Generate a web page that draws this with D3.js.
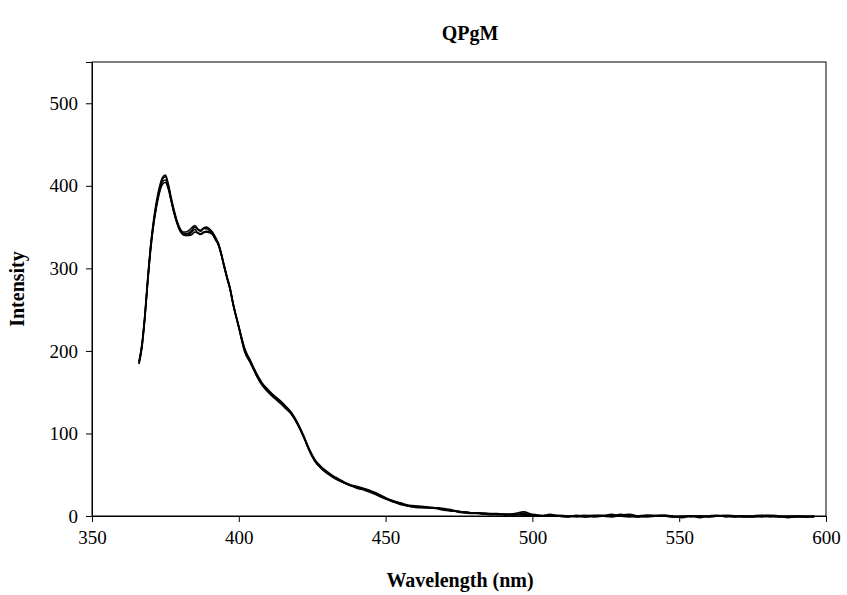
<!DOCTYPE html>
<html><head><meta charset="utf-8">
<script src="https://cdn.jsdelivr.net/npm/d3@7"></script>
<style>body{margin:0;background:#fff}svg{display:block}</style>
</head><body><svg id="c" width="847" height="595"></svg>
<script>
const wavelength = [366,367,368,369,370,371,372,373,374,375,376,377,378,379,380,381,382,383,384,385,386,387,388,389,390,391,392,393,394,395,396,397,
398,400,402,404,406,408,410,412,414,416,418,420,422,424,426,428,430,432,434,436,438,440,
443,446,449,452,455,458,461,464,467,470,473,476,479,482,485,488,491,494,497,500,503,506,509,512,515,518,521,524,527,530,533,536,539,542,545,548,551,554,557,560,563,566,569,572,575,578,581,584,587,590,593,596];

const run1 = [185,205,240,285,325,355,378,396,408,411,400,383,368,356,347,343,342,343,346,350,347,345,348,348,346,343,337,330,318,303,289,276,
258,228,200,186,172,160,152,144,139,132,124,112,97,80,67,59,53,48,44,40,37,35,
32,28,23,18,15,12,11,10,10,8,6,5,4,3,3,2,2,2,3,1,0,1,0,-1,1,-1,0,1,0,2,0,-1,1,0,1,0,-2,0,-1,0,1,-1,0,-1,0,1,0,-1,0,-1,0,-1];

const run2 = [186,207,242,287,327,356,378,394,405,407,398,382,367,355,346,341,340,340,341,344,343,342,344,345,344,342,336,329,317,302,288,275,
257,229,202,187,171,159,151,145,138,131,123,111,96,79,66,58,52,47,43,40,37,34,
31,27,22,18,14,12,10,10,9,7,6,4,3,3,2,2,1,2,1,1,0,2,0,0,-1,0,1,0,-1,1,2,0,-1,0,1,-1,-1,0,-2,0,0,0,-1,0,-1,0,-1,0,-2,-1,-1,0];

const run3 = [184,204,239,284,323,353,375,392,402,404,396,381,366,354,345,341,340,341,344,347,343,341,343,344,343,341,335,329,317,302,288,275,
258,230,203,188,173,161,153,146,140,133,125,113,98,81,68,60,54,49,45,41,38,36,
33,29,24,19,16,13,12,11,10,9,7,5,4,4,3,3,2,3,5,2,1,0,1,0,0,1,-1,0,2,0,1,-1,0,1,0,-1,0,-1,0,-1,0,1,0,-1,-1,0,1,0,-1,0,-1,-1];

const run4 = [187,208,244,289,329,359,382,399,410,413,402,385,370,357,348,344,344,346,349,352,348,346,349,350,348,344,338,331,319,304,290,277,
259,229,199,185,170,158,150,143,137,130,123,112,97,80,66,58,52,48,44,40,37,35,
32,28,23,19,15,12,11,10,10,8,6,5,4,3,2,2,2,1,2,1,0,1,0,-1,0,-1,0,0,1,0,-1,0,1,0,0,-1,-1,0,0,-1,0,0,-1,0,0,-1,0,-1,-1,0,-1,0];

const seriesList = [run1, run2, run3, run4];
const xTicks = [350,400,450,500,550,600];
const yTicks = [0,100,200,300,400,500];
const chartTitle = "QPgM";
const xTitle = "Wavelength (nm)";
const yTitle = "Intensity";

const svg = d3.select("#c");
const L = 92, R = 826, T = 62, B = 516;
const x = d3.scaleLinear().domain([350,600]).range([L,R]);
const y = d3.scaleLinear().domain([0,550]).range([B,T]);
const font = "'Liberation Serif','Times New Roman',serif";

svg.append("rect").attr("x",L).attr("y",T).attr("width",R-L).attr("height",B-T)
  .attr("fill","none").attr("stroke","#000").attr("stroke-width",1);

const gx = svg.append("g").attr("transform",`translate(0,${B})`)
  .call(d3.axisBottom(x).tickValues(xTicks).tickSize(6).tickPadding(9).tickFormat(d3.format("d")));
const gy = svg.append("g").attr("transform",`translate(${L},0)`)
  .call(d3.axisLeft(y).tickValues(yTicks).tickSize(6).tickPadding(8).tickFormat(d3.format("d")));
[gx,gy].forEach(g=>{
  g.selectAll("text").attr("font-family",font).attr("font-size",19).attr("fill","#000");
  g.selectAll("line,path").attr("stroke","#000");
});

const line = d3.line().x((d,i)=>x(wavelength[i])).y(d=>y(d)).curve(d3.curveMonotoneX);
svg.append("g").selectAll("path").data(seriesList).join("path")
  .attr("d",line).attr("fill","none").attr("stroke","#000").attr("stroke-width",1.6);

svg.append("text").attr("x",470).attr("y",40).attr("text-anchor","middle")
  .attr("font-family",font).attr("font-weight","bold").attr("font-size",20).text(chartTitle);
svg.append("text").attr("x",460).attr("y",587).attr("text-anchor","middle")
  .attr("font-family",font).attr("font-weight","bold").attr("font-size",20).text(xTitle);
svg.append("text").attr("transform",`translate(24,${(T+B)/2}) rotate(-90)`).attr("text-anchor","middle")
  .attr("font-family",font).attr("font-weight","bold").attr("font-size",20).text(yTitle);
</script></body></html>
